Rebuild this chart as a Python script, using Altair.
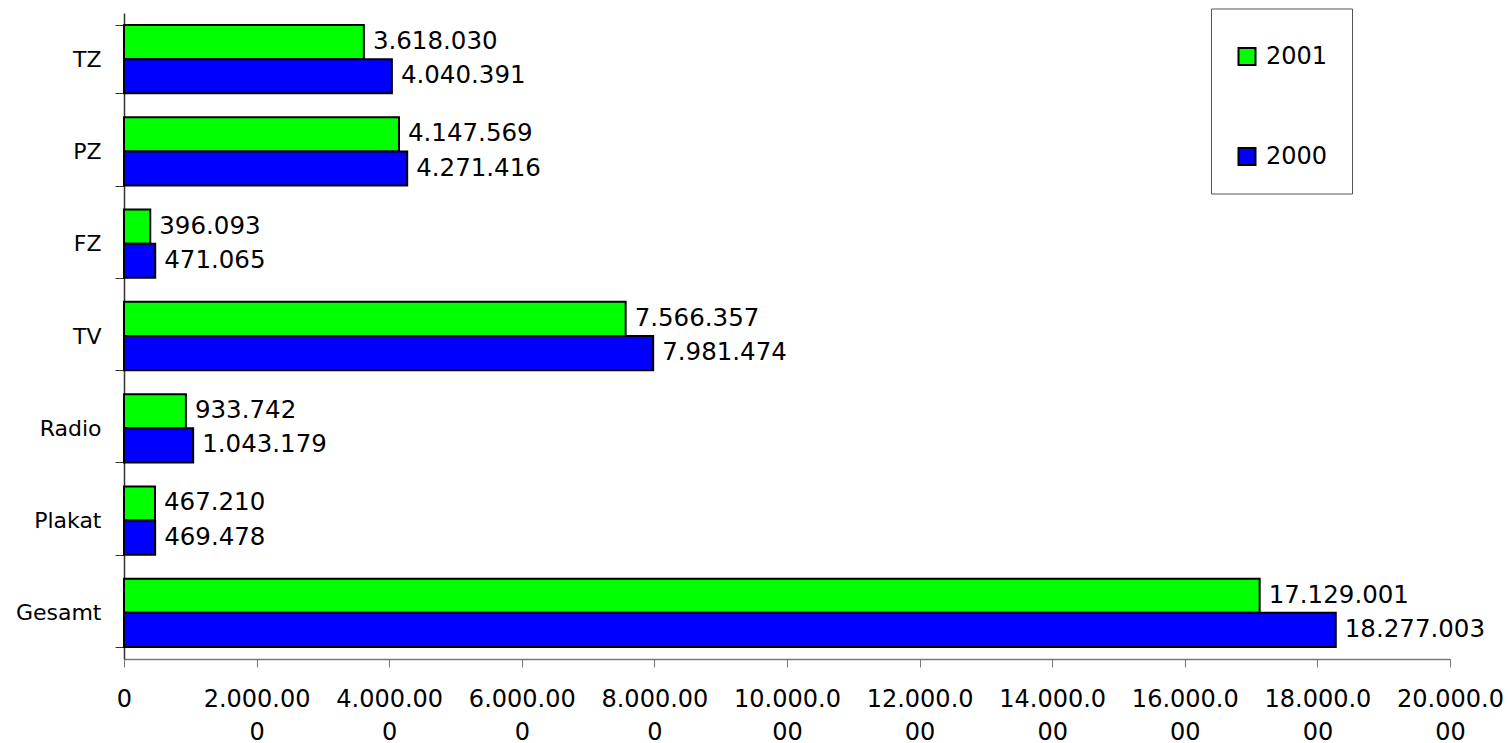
import altair as alt
import pandas as pd

categories = ["TZ", "PZ", "FZ", "TV", "Radio", "Plakat", "Gesamt"]
years = ["2001", "2000"]
values_2001 = [3618030, 4147569, 396093, 7566357, 933742, 467210, 17129001]
values_2000 = [4040391, 4271416, 471065, 7981474, 1043179, 469478, 18277003]
colors = ["#00FF00", "#0000FF"]


def de_fmt(v):
    return f"{v:,}".replace(",", ".")


rows = []
for c, a, b in zip(categories, values_2001, values_2000):
    rows.append({"cat": c, "year": "2001", "value": a, "label": de_fmt(a)})
    rows.append({"cat": c, "year": "2000", "value": b, "label": de_fmt(b)})
df = pd.DataFrame(rows)

FONT = "DejaVu Sans"

y_enc = alt.Y(
    "cat:N",
    sort=categories,
    scale=alt.Scale(paddingInner=0.26, paddingOuter=0.13),
    axis=alt.Axis(
        title=None,
        labelFontSize=22,
        labelFont=FONT,
        labelColor="black",
        labelPadding=14,
        tickSize=9,
        tickBand="extent",
        tickColor="#333333",
        domainColor="#333333",
        domainWidth=1.5,
        grid=False,
    ),
)
yoff = alt.YOffset("year:N", sort=years, scale=alt.Scale(paddingInner=0, paddingOuter=0))

fmt = "replace(format(datum.value, ','), regexp(',', 'g'), '.')"
x_enc = alt.X(
    "value:Q",
    scale=alt.Scale(domain=[0, 20000000], nice=False),
    axis=alt.Axis(
        title=None,
        values=list(range(0, 20000001, 2000000)),
        labelExpr=f"length({fmt}) > 8 ? [slice({fmt}, 0, 8), slice({fmt}, 8)] : {fmt}",
        labelFontSize=24,
        labelFont=FONT,
        labelColor="black",
        labelLineHeight=33,
        labelPadding=20,
        labelOverlap=False,
        labelFlush=False,
        labelBaseline="top",
        tickSize=8,
        tickColor="#777777",
        domainColor="#777777",
        domainWidth=1.5,
        grid=False,
    ),
)

bars = alt.Chart(df).mark_bar(stroke="black", strokeWidth=2).encode(
    x=x_enc,
    y=y_enc,
    yOffset=yoff,
    color=alt.Color(
        "year:N",
        scale=alt.Scale(domain=years, range=colors),
        legend=alt.Legend(
            title=" ",
            titleFontSize=6,
            titlePadding=6,
            orient="none",
            legendX=1087,
            legendY=-4.5,
            direction="vertical",
            strokeColor="#555555",
            fillColor="white",
            padding=24,
            rowPadding=74,
            symbolType="square",
            symbolSize=289,
            symbolStrokeColor="black",
            symbolStrokeWidth=2,
            symbolOpacity=1,
            labelFontSize=24,
            labelFont=FONT,
            labelColor="black",
            labelOffset=7,
        ),
    ),
)

texts = alt.Chart(df).mark_text(
    align="left", baseline="middle", dx=9, fontSize=24.5, font=FONT, color="black"
).encode(
    x=alt.X("value:Q"),
    y=alt.Y("cat:N", sort=categories),
    yOffset=alt.YOffset("year:N", sort=years),
    text="label:N",
)

chart = (
    alt.layer(bars, texts)
    .properties(
        width=1326,
        height=646,
        background="white",
        autosize=alt.AutoSizeParams(type="none"),
        padding={"left": 116, "top": 5, "right": 53, "bottom": 86},
    )
    .configure_view(strokeWidth=0)
)

chart.save("out.html", embed_options={"renderer": "svg", "actions": False})
